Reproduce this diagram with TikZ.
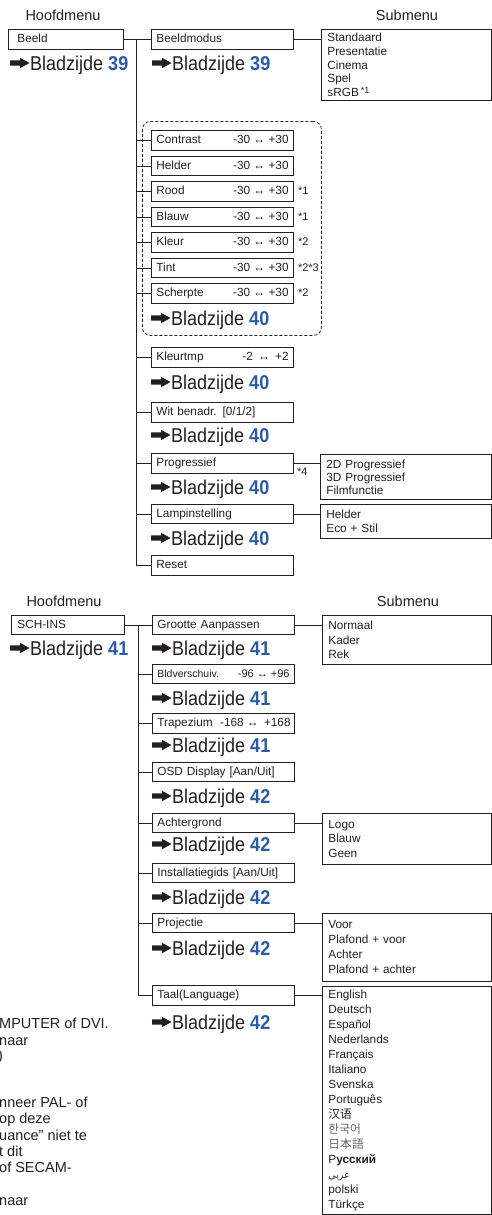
\documentclass[tikz,border=0pt]{standalone}
\usepackage{fontspec}
\setmainfont{Liberation Sans}
\newfontfamily\condfont[FakeStretch=0.9]{Liberation Sans}
\newfontfamily\cjksc{Noto Sans CJK SC}
\newfontfamily\cjkkr{Noto Sans CJK KR}
\newfontfamily\cjkjp{Noto Sans CJK JP}
\newfontfamily\arabicfont[Script=Arabic]{DejaVu Sans}
\TeXXeTstate=1
\definecolor{pblue}{RGB}{43,91,168}
\definecolor{ink}{RGB}{35,31,32}
\tikzset{
  conn/.style={draw=ink, line width=0.8pt},
  box/.style={draw=ink, line width=0.8pt, anchor=west, minimum height=19.5pt,
    inner xsep=5pt, inner ysep=0pt, text height=8.6pt, text depth=2.4pt,
    align=left, text=ink, font=\fontsize{11.8}{13}\selectfont},
  cbox/.style={box, minimum width=142pt, text width=132pt},
  rng/.style={anchor=east, inner sep=0pt, text height=8.6pt, text depth=2.4pt,
    text=ink, font=\fontsize{11.8}{13}\selectfont},
  fn/.style={anchor=west, inner sep=0pt, text height=8.6pt, text depth=2.4pt,
    text=ink, font=\fontsize{11}{13}\selectfont},
  sbox/.style={draw=ink, line width=0.8pt, anchor=north west, align=left,
    inner xsep=6pt, inner ysep=0pt, text=ink},
  hdr/.style={text=ink, inner sep=0pt, font=\fontsize{14.5}{16}\selectfont},
  pgtext/.style={anchor=base west, inner sep=0pt, text=ink,
    font=\condfont\fontsize{20}{22}\selectfont},
  stray/.style={anchor=base west, inner sep=0pt, text=ink,
    font=\fontsize{14.5}{16}\selectfont},
  grpbox/.style={draw=ink, line width=0.8pt, dash pattern=on 3pt off 2pt,
    rounded corners=8pt, anchor=north west, inner sep=0pt}
}
% page reference: name, x, y(centre of capitals), number
\newcommand\pgref[4]{%
  \fill[ink] (#2,#3) ++(0,-2.6) -- ++(10,0) -- ++(0,-2.6) -- ++(9.5,5.2)
     -- ++(-9.5,5.2) -- ++(0,-2.6) -- ++(-10,0) -- cycle;
  \node[pgtext] (#1) at (#2+20,#3+7.2) {Bladzijde \textcolor{pblue}{\textbf{#4}}};
}
\begin{document}
\begin{tikzpicture}[x=1pt,y=-1pt]
\useasboundingbox (0,0) rectangle (492,1215);

%================ SECTION 1 ================
\node[hdr] (hA) at (63,15) {Hoofdmenu};
\node[hdr] (sA) at (407,15) {Submenu};

\node[box, minimum width=115pt, text width=97pt, inner xsep=9pt] (beeld) at (8,39.5) {Beeld};
\pgref{p39a}{10}{63}{39}

\node[cbox] (bm) at (151,39.5) {Beeldmodus};
\pgref{p39b}{152}{63}{39}

\node[sbox, minimum width=170pt, minimum height=71pt, text width=158pt,
  font=\fontsize{11.8}{13.8}\selectfont] (smA) at (321,29)
  {Standaard\\Presentatie\\Cinema\\Spel\\sRGB\,\raisebox{3pt}{\fontsize{9}{9}\selectfont *1}};

\node[grpbox, minimum width=179pt, minimum height=214pt] (grp) at (142,121) {};

\foreach \n/\t/\y in {c1/Contrast/140.5, c2/Helder/166, c3/Rood/191.5,
   c4/Blauw/217, c5/Kleur/242.5, c6/Tint/268, c7/Scherpte/293.5}{
  \node[cbox] (\n) at (151,\y) {\t};
  \node[rng] (\n-r) at ([xshift=-5pt]\n.east) {-30 ↔ +30};
}
\node[fn] (f3) at ([xshift=4pt]c3.east) {*1};
\node[fn] (f4) at ([xshift=4pt]c4.east) {*1};
\node[fn] (f5) at ([xshift=4pt]c5.east) {*2};
\node[fn] (f6) at ([xshift=4pt]c6.east) {*2*3};
\node[fn] (f7) at ([xshift=4pt]c7.east) {*2};
\pgref{p40a}{151}{318}{40}

\node[cbox] (kt) at (151,357.5) {Kleurtmp};
\node[rng] (kt-r) at ([xshift=-5pt]kt.east) {-2 \,↔\, +2};
\pgref{p40b}{151}{382}{40}

\node[cbox] (wit) at (151,412.5) {Wit benadr. [0/1/2]};
\pgref{p40c}{151}{435}{40}

\node[cbox] (prog) at (151,463.5) {Progressief};
\node[fn] (f8) at (297,472) {*4};
\node[sbox, minimum width=171pt, minimum height=45pt, text width=159pt,
  font=\fontsize{11.8}{13}\selectfont] (smP) at (320,454)
  {2D Progressief\\3D Progressief\\Filmfunctie};
\pgref{p40d}{151}{487}{40}

\node[cbox] (lamp) at (151,514) {Lampinstelling};
\node[sbox, minimum width=171pt, minimum height=34pt, text width=159pt,
  font=\fontsize{11.8}{14}\selectfont] (smL) at (320,504)
  {Helder\\Eco + Stil};
\pgref{p40e}{151}{538}{40}

\node[cbox] (reset) at (151,565.5) {Reset};

\coordinate (jA) at (136,39.5);
\draw[conn] (beeld.east) -- (bm.west);
\draw[conn] (jA) |- (reset.west);
\foreach \n in {c1,c2,c3,c4,c5,c6,c7,kt,wit,prog,lamp}
  \draw[conn] (\n.west -| jA) -- (\n.west);
\draw[conn] (bm.east) -- (bm.east -| smA.west);
\draw[conn] (prog.east) -- (prog.east -| smP.west);
\draw[conn] (lamp.east) -- (lamp.east -| smL.west);

%================ SECTION 2 ================
\node[hdr] (hB) at (64,601) {Hoofdmenu};
\node[hdr] (sB) at (408,601) {Submenu};

\node[box, minimum width=113pt, text width=101pt, inner xsep=6pt] (sch) at (11,625) {SCH-INS};
\pgref{p41a}{10}{648}{41}

\node[cbox] (gr) at (152,625) {Grootte Aanpassen};
\node[sbox, minimum width=169pt, minimum height=49pt, text width=157pt,
  font=\fontsize{11.8}{14.5}\selectfont] (smG) at (322,615)
  {Normaal\\Kader\\Rek};
\pgref{p41b}{152}{648}{41}

\node[cbox, font=\fontsize{10.5}{12}\selectfont] (bv) at (152,674) {Bldverschuiv.};
\node[rng, font=\fontsize{11}{12}\selectfont] (bv-r) at ([xshift=-5pt]bv.east) {-96 ↔ +96};
\pgref{p41c}{152}{698}{41}

\node[cbox] (tr) at (152,723.5) {Trapezium};
\node[rng] (tr-r) at ([xshift=-4pt]tr.east) {-168 ↔ \,+168};
\pgref{p41d}{152}{745}{41}

\node[cbox] (osd) at (152,772) {OSD Display [Aan/Uit]};
\pgref{p42a}{152}{796}{42}

\node[cbox] (ag) at (152,823) {Achtergrond};
\node[sbox, minimum width=169pt, minimum height=51pt, text width=157pt,
  font=\fontsize{11.8}{14.5}\selectfont] (smAg) at (322,813)
  {Logo\\Blauw\\Geen};
\pgref{p42b}{152}{844}{42}

\node[cbox] (ig) at (152,873) {Installatiegids [Aan/Uit]};
\pgref{p42c}{152}{897}{42}

\node[cbox] (pj) at (152,923) {Projectie};
\node[sbox, minimum width=169pt, minimum height=68pt, text width=157pt,
  font=\fontsize{11.8}{15}\selectfont] (smPj) at (322,913)
  {Voor\\Plafond + voor\\Achter\\Plafond + achter};
\pgref{p42d}{152}{948}{42}

\node[cbox] (tl) at (152,995.5) {Taal(Language)};
\node[sbox, minimum width=169pt, minimum height=228pt, text width=157pt,
  font=\fontsize{11.8}{15}\selectfont] (smT) at (322,986)
  {English\\Deutsch\\Español\\Nederlands\\Français\\Italiano\\Svenska\\Português\\
   {\cjksc 汉语}\\{\cjkkr\color{ink!70}한국어}\\{\cjkjp\color{ink!70}日本語}\\
   Р\textbf{усский}\\{\arabicfont\fontsize{9.5}{10}\selectfont\beginR عربي\endR}\\polski\\Türkçe};
\pgref{p42e}{152}{1022}{42}

\coordinate (jB) at (138,625);
\draw[conn] (sch.east) -- (gr.west);
\draw[conn] (jB) |- (tl.west);
\foreach \n in {bv,tr,osd,ag,ig,pj}
  \draw[conn] (\n.west -| jB) -- (\n.west);
\draw[conn] (gr.east) -- (gr.east -| smG.west);
\draw[conn] (ag.east) -- (ag.east -| smAg.west);
\draw[conn] (pj.east) -- (pj.east -| smPj.west);
\draw[conn] (tl.east) -- (tl.east -| smT.west);

%================ stray page text (left, cut off) ================
\node[stray] (x1) at (-1,1028) {MPUTER of DVI.};
\node[stray] (x2) at (-1,1045) {naar};
\node[stray] (x3) at (-2,1060) {)};
\node[stray] (x4) at (-1,1107) {nneer PAL- of};
\node[stray] (x5) at (-1,1123) {op deze};
\node[stray] (x6) at (-1,1140) {uance” niet te};
\node[stray] (x7) at (-1,1156) {t dit};
\node[stray] (x8) at (-1,1172) {of SECAM-};
\node[stray] (x9) at (-1,1205) {naar};
\end{tikzpicture}
\end{document}
